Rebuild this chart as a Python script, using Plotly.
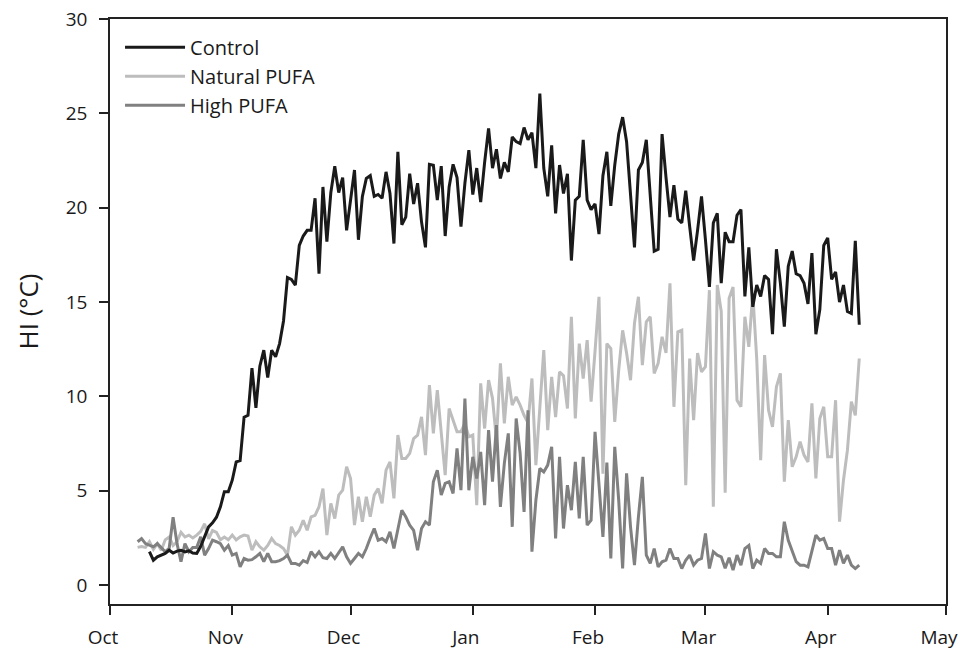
import plotly.graph_objects as go
import pandas as pd

# ---- data (daily HI values, °C) ----
control_start = "2010-10-11"
pufa_start = "2010-10-08"

control = [
    1.77, 1.32, 1.5, 1.59, 1.68, 1.85, 1.7, 1.8, 1.85, 1.76, 1.82, 1.7, 1.68, 2.06, 2.56, 3.09, 3.3, 3.6, 4.15, 4.95, 4.95, 5.56, 6.53, 6.6,
    8.9, 9.0, 11.5, 9.4, 11.6, 12.45, 11.0, 12.45, 12.1, 12.8, 14.0, 16.3, 16.2, 15.9, 18.0, 18.5, 18.8, 18.8, 20.5, 16.5, 21.1, 18.2, 20.8, 22.2, 20.8, 21.6, 18.8, 20.3, 22.0,
    18.3, 20.6, 21.55, 21.7, 20.6, 20.7, 20.5, 21.9, 20.75, 18.1, 22.96, 19.1, 19.5, 21.8, 20.2, 21.3, 19.25, 17.9, 22.3, 22.25, 20.4, 22.2, 18.5, 21.1, 22.3, 21.6, 19.0, 21.3, 23.05, 20.7, 22.1, 20.3, 22.4, 24.2,
    22.1, 23.1, 21.55, 22.4, 21.9, 23.75, 23.5, 23.4, 24.25, 23.6, 23.97, 22.1, 26.05, 22.1, 20.6, 23.3, 19.7, 22.26, 20.75, 21.8, 17.2, 20.4, 20.6, 23.6, 20.4, 19.9, 20.2, 18.6, 21.7, 22.96,
    20.1, 22.26, 23.9, 24.8, 23.5, 20.6, 17.9, 22.0, 22.4, 23.6, 20.6, 17.7, 17.8, 23.9, 21.6, 19.5, 21.2, 19.4, 19.2, 20.9, 19.0, 17.2, 18.8, 20.6, 18.3, 15.8, 19.2, 19.7, 16.0, 18.7, 18.2,
    18.2, 19.6, 19.9, 15.3, 17.9, 14.75, 15.9, 15.3, 16.4, 16.2, 13.3, 17.8, 16.0, 13.7, 16.9, 17.7, 16.5, 16.4, 16.0, 14.9, 17.6, 13.3, 14.6, 18.0, 18.4, 16.2, 16.6, 15.0, 15.9, 14.5, 14.4, 18.25, 13.8,
]

natural_pufa = [
    2.0, 2.05, 2.0, 2.3, 1.9, 2.2, 1.85, 2.4, 2.55, 2.1, 2.3, 2.8, 2.55, 2.65, 2.5, 2.65, 2.85, 3.25, 2.45, 2.9, 2.8, 2.4, 2.55, 2.4, 2.65, 2.4,
    2.56, 2.65, 2.6, 1.85, 2.3, 2.03, 1.85, 2.1, 2.47, 2.2, 2.1, 1.94, 1.59, 3.09, 2.65, 2.91, 3.44, 2.91, 3.62, 3.7, 4.15, 5.12, 2.65, 4.33, 3.53, 4.77, 5.03, 6.27, 5.65, 3.18,
    4.68, 3.36, 4.68, 3.62, 4.77, 5.12, 4.33, 6.09, 6.53, 4.6, 7.95, 6.71, 6.71, 6.98, 7.77, 7.95, 8.92, 6.89, 10.6, 8.04, 10.33, 8.04, 5.83, 9.36, 8.74, 8.13, 8.13, 8.57, 7.86, 7.95, 4.24, 10.69, 8.3, 10.86,
    9.9, 7.68, 11.75, 8.57, 11.04, 9.54, 9.98, 9.54, 9.0, 8.6, 10.95, 6.36, 9.4, 12.45, 8.21, 11.04, 8.9, 11.3, 11.1, 9.36, 14.22, 8.83, 12.8, 10.95, 12.98, 9.72, 12.4, 15.28, 5.9, 12.8,
    12.54, 8.65, 11.39, 13.5, 12.3, 10.86, 13.87, 15.28, 11.66, 13.95, 14.22, 11.22, 11.75, 13.16, 12.3, 15.99, 9.45, 13.42, 13.51, 5.3, 12.01, 8.74, 12.3, 11.3, 11.57, 15.63, 4.15, 15.9, 14.5, 4.9, 15.2,
    15.8, 9.8, 9.45, 14.22, 12.63, 15.46, 12.0, 6.62, 12.19, 9.27, 8.39, 10.51, 11.22, 5.48, 8.74, 6.27, 6.8, 7.6, 6.89, 6.53, 9.63, 5.65, 8.83, 9.45, 6.8, 6.8, 9.8, 3.36, 5.56, 7.15, 9.72, 9.0, 12.01,
]

high_pufa = [
    2.3, 2.47, 2.2, 2.1, 2.03, 2.2, 2.0, 1.77, 1.94, 3.6, 2.2, 1.24, 2.2, 1.77, 2.0, 2.0, 2.56, 1.59, 1.94, 2.38, 2.3, 2.2, 1.85, 2.1, 1.59, 1.68,
    0.97, 1.41, 1.32, 1.35, 1.5, 1.68, 1.24, 1.68, 1.24, 1.24, 1.3, 1.41, 1.59, 1.15, 1.15, 1.06, 1.3, 1.2, 1.77, 1.5, 1.77, 1.45, 1.41, 1.68, 1.41, 1.7, 2.03, 1.5, 1.15, 1.41,
    1.68, 1.5, 1.94, 2.5, 3.0, 2.38, 2.47, 2.3, 2.82, 1.94, 2.9, 3.97, 3.62, 3.18, 2.9, 1.85, 3.0, 3.36, 3.18, 5.48, 6.09, 4.77, 5.39, 5.48, 4.86, 7.24, 5.03, 9.89, 5.03, 6.8, 5.65, 7.06, 4.24, 8.21,
    5.48, 8.48, 4.15, 6.45, 8.04, 3.09, 8.83, 7.0, 3.88, 9.27, 1.77, 4.5, 6.18, 6.0, 6.36, 7.33, 2.47, 6.8, 3.0, 5.3, 3.97, 6.53, 3.53, 6.8, 3.18, 3.44, 8.12, 5.3, 2.56, 6.5,
    1.41, 7.33, 4.5, 0.88, 5.92, 3.09, 1.06, 3.62, 5.74, 1.59, 1.15, 1.94, 0.97, 1.24, 1.32, 1.94, 1.41, 1.41, 0.88, 1.32, 1.59, 1.06, 1.32, 1.41, 2.74, 0.88, 1.77, 1.59, 1.5, 0.9, 1.45,
    0.8, 1.59, 1.06, 1.94, 2.1, 0.88, 1.32, 1.15, 1.94, 1.68, 1.68, 1.5, 1.5, 3.36, 2.38, 1.85, 1.24, 1.06, 1.06, 0.97, 1.85, 2.65, 2.38, 2.47, 1.94, 1.94, 1.06, 1.85, 1.15, 1.59, 1.06, 0.88, 1.06,
]

x_range = ["2010-10-01", "2011-05-01"]
month_ticks = list(pd.date_range("2010-10-01", "2011-05-01", freq="MS"))
month_labels = ["Oct", "Nov", "Dec", "Jan", "Feb", "Mar", "Apr", "May"]
y_ticks = [0, 5, 10, 15, 20, 25, 30]
y_range = [-1.0, 30]

control_dates = pd.date_range(control_start, periods=len(control), freq="D")
pufa_dates = pd.date_range(pufa_start, periods=len(natural_pufa), freq="D")

FONT = "Open Sans, DejaVu Sans, sans-serif"
TXT = "#1a1a1a"

fig = go.Figure()
fig.add_trace(go.Scatter(x=pufa_dates, y=natural_pufa, mode="lines", name="Natural PUFA",
                         line=dict(color="#bdbdbd", width=3), legendrank=2, legendgroup="b"))
fig.add_trace(go.Scatter(x=pufa_dates, y=high_pufa, mode="lines", name="High PUFA",
                         line=dict(color="#808080", width=3), legendrank=3, legendgroup="c"))
fig.add_trace(go.Scatter(x=control_dates, y=control, mode="lines", name="Control",
                         line=dict(color="#1a1a1a", width=3), legendrank=1, legendgroup="a"))

fig.update_layout(
    width=960, height=652,
    margin=dict(l=110, r=14, t=19, b=48, autoexpand=False),
    paper_bgcolor="white", plot_bgcolor="white",
    font=dict(family=FONT, size=19, color=TXT),
    showlegend=True,
    legend=dict(x=0.012, y=0.985, xanchor="left", yanchor="top", bgcolor="rgba(0,0,0,0)",
                font=dict(size=20, color=TXT), itemwidth=60, tracegroupgap=0,
                traceorder="grouped"),
)
fig.update_xaxes(
    type="date", range=x_range,
    tickmode="array", tickvals=month_ticks, ticktext=month_labels,
    ticks="outside", ticklen=9, tickwidth=1.5, tickcolor="#222",
    showline=True, linecolor="#222", linewidth=1.5, mirror=True,
    showgrid=False, zeroline=False, automargin=False,
    tickfont=dict(size=19, color=TXT), ticklabelshift=-7, ticklabelstandoff=6,
)
fig.update_yaxes(
    range=y_range, tickmode="array", tickvals=y_ticks,
    ticks="outside", ticklen=9, tickwidth=1.5, tickcolor="#222",
    showline=True, linecolor="#222", linewidth=1.5, mirror=True,
    showgrid=False, zeroline=False, automargin=False,
    tickfont=dict(size=19, color=TXT), ticklabelstandoff=8,
    title=dict(text="HI (°C)", font=dict(size=26, color=TXT), standoff=20),
)

fig.write_html("out.html")
